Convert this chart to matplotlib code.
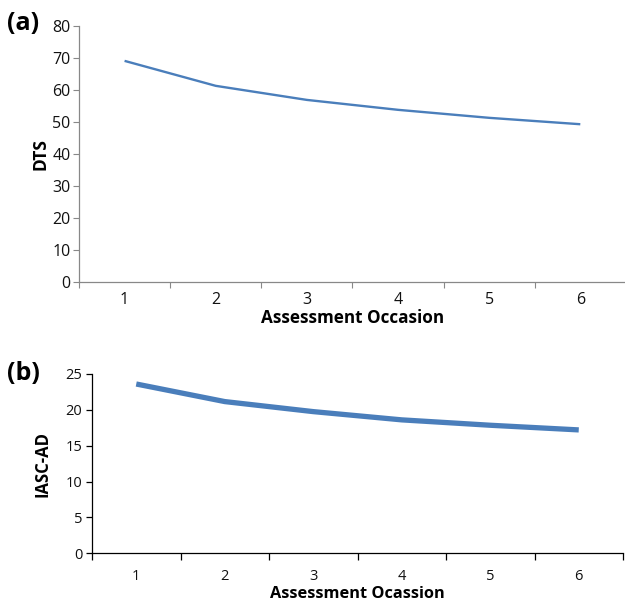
import matplotlib
matplotlib.use("Agg")
import matplotlib.pyplot as plt
from matplotlib.ticker import FixedLocator

occasions = [1, 2, 3, 4, 5, 6]
dts = [69.1, 61.3, 56.9, 53.8, 51.3, 49.3]
iasc_ad = [23.6, 21.15, 19.75, 18.6, 17.85, 17.2]

plt.rcParams['font.family'] = ['Open Sans', 'DejaVu Sans']

fig = plt.figure(figsize=(6.25, 6.06), dpi=100)

# ---- panel (a)
ax1 = fig.add_axes([0.1264, 0.5347, 0.875, 0.4224])
ax1.plot(occasions, dts, color='#4a7ebb', lw=1.7, solid_capstyle='butt')
ax1.set_xlim(0.5, 6.5)
ax1.set_ylim(0, 80)
ax1.set_yticks(range(0, 81, 10))
ax1.set_xticks(occasions)
ax1.xaxis.set_minor_locator(FixedLocator([0.5 + i for i in range(7)]))
ax1.tick_params(axis='x', which='major', length=0, pad=7, labelsize=11.5, labelcolor='#111111')
ax1.tick_params(axis='x', which='minor', length=4, color='#888888', width=0.8)
ax1.tick_params(axis='y', length=4, color='#888888', width=0.8, labelsize=11.5, pad=2, labelcolor='#111111')
for s in ['top', 'right']:
    ax1.spines[s].set_visible(False)
for s in ['left', 'bottom']:
    ax1.spines[s].set_color('#888888')
    ax1.spines[s].set_linewidth(0.9)
ax1.set_ylabel('DTS', fontweight='bold', fontsize=12.5, labelpad=2)
ax1.set_xlabel('Assessment Occasion', fontweight='bold', fontsize=12.3, labelpad=1)
fig.text(0.011, 0.961, '(a)', fontweight='bold', fontsize=18, ha='left', va='center')

# ---- panel (b)
ax2 = fig.add_axes([0.1472, 0.087, 0.8496, 0.2959])
ax2.plot(occasions, iasc_ad, color='#4a7ebb', lw=3.8, solid_capstyle='butt')
ax2.set_xlim(0.5, 6.5)
ax2.set_ylim(0, 25)
ax2.set_yticks(range(0, 26, 5))
ax2.set_xticks(occasions)
ax2.xaxis.set_minor_locator(FixedLocator([0.5 + i for i in range(7)]))
ax2.tick_params(axis='x', which='major', length=0, pad=11, labelsize=10.5, labelcolor='#111111')
ax2.tick_params(axis='x', which='minor', length=5, color='black', width=0.9)
ax2.tick_params(axis='y', length=4, color='black', width=0.9, labelsize=10.5, pad=3, labelcolor='#111111')
for s in ['top', 'right']:
    ax2.spines[s].set_visible(False)
for s in ['left', 'bottom']:
    ax2.spines[s].set_color('black')
    ax2.spines[s].set_linewidth(0.9)
ax2.set_ylabel('IASC-AD', fontweight='bold', fontsize=12, labelpad=10)
ax2.set_xlabel('Assessment Ocassion', fontweight='bold', fontsize=11.8, labelpad=2)
fig.text(0.011, 0.383, '(b)', fontweight='bold', fontsize=18, ha='left', va='center')

fig.savefig('out.png', dpi=100)
